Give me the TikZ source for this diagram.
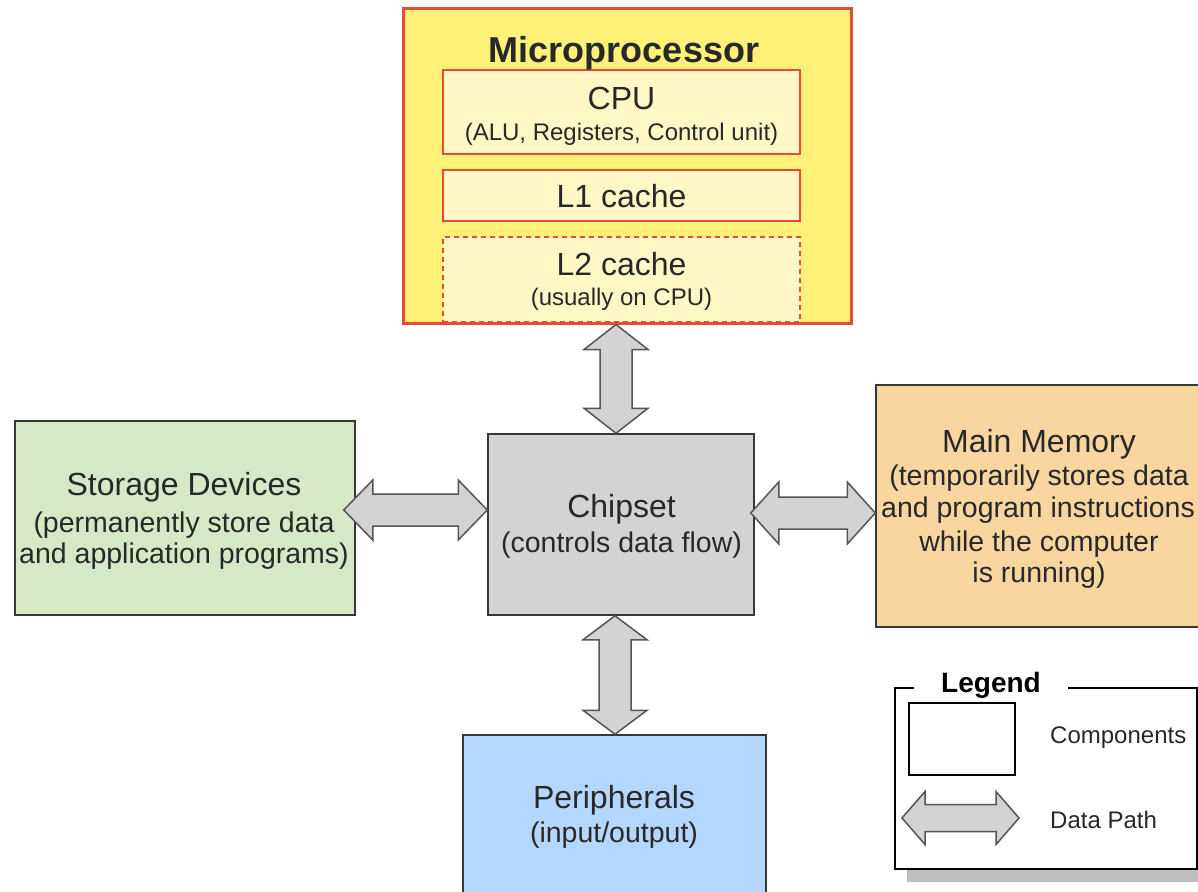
\documentclass[tikz,border=0pt]{standalone}
\usepackage{fontspec}
\setmainfont{Liberation Sans}
\usetikzlibrary{calc}
\definecolor{mpfill}{RGB}{255,241,120}
\definecolor{mpred}{RGB}{234,72,56}
\definecolor{infill}{RGB}{255,248,198}
\definecolor{chipfill}{RGB}{211,211,211}
\definecolor{storfill}{RGB}{214,233,199}
\definecolor{memfill}{RGB}{249,214,160}
\definecolor{perfill}{RGB}{180,215,253}
\definecolor{arrfill}{RGB}{211,211,211}
\definecolor{arrline}{RGB}{85,85,85}
\definecolor{boxline}{RGB}{55,55,55}
\definecolor{txt}{RGB}{40,40,40}
\definecolor{shadow}{RGB}{190,190,190}
\newcommand\HArrow[6]{%
  \draw[dpath] let \p1=(#1), \p2=(#2), \p3=(0,#3) in
  (\x1,\y3) -- (\x1+#4pt,\y3+#5pt) -- (\x1+#4pt,\y3+#6pt) -- (\x2-#4pt,\y3+#6pt)
  -- (\x2-#4pt,\y3+#5pt) -- (\x2,\y3) -- (\x2-#4pt,\y3-#5pt) -- (\x2-#4pt,\y3-#6pt)
  -- (\x1+#4pt,\y3-#6pt) -- (\x1+#4pt,\y3-#5pt) -- cycle;}
\newcommand\VArrow[6]{%
  \draw[dpath] let \p1=(#1), \p2=(#2), \p3=(#3,0) in
  (\x3,\y1) -- (\x3+#5pt,\y1-#4pt) -- (\x3+#6pt,\y1-#4pt) -- (\x3+#6pt,\y2+#4pt)
  -- (\x3+#5pt,\y2+#4pt) -- (\x3,\y2) -- (\x3-#5pt,\y2+#4pt) -- (\x3-#6pt,\y2+#4pt)
  -- (\x3-#6pt,\y1-#4pt) -- (\x3-#5pt,\y1-#4pt) -- cycle;}
\begin{document}
\begin{tikzpicture}[x=1pt,y=-1pt,
  dpath/.style={fill=arrfill,draw=arrline,line width=1.5pt,line join=miter},
  comp/.style={draw=boxline,line width=1.5pt,inner sep=0pt,rectangle},
  inner/.style={draw=mpred,line width=1.2pt,fill=infill,inner sep=0pt,rectangle,minimum width=357pt},
  lbl/.style={text=txt,inner sep=0pt,anchor=base},
  tA/.style={lbl,font=\fontsize{32}{38}\selectfont},
  tB/.style={lbl,font=\fontsize{28.5}{35}\selectfont},
  tC/.style={lbl,font=\fontsize{24}{29}\selectfont},
  tM/.style={lbl,font=\fontsize{36}{42}\selectfont\bfseries},
]
\useasboundingbox (0,0) rectangle (1198,891);
\clip (0,0) rectangle (1198,891);
\fill[white] (0,0) rectangle (1198,891);

% legend
\fill[shadow] (907,700) rectangle (1212,882);
\node[draw=black,line width=2.5pt,fill=white,rectangle,inner sep=0pt,minimum width=302pt,minimum height=181pt] (leg) at (1046,778.5) {};
\node[lbl,font=\fontsize{28}{32}\selectfont\bfseries,text=black,fill=white,inner xsep=27pt,inner ysep=4pt] (legT) at (991,692) {Legend};
\node[draw=black,line width=1.5pt,fill=white,rectangle,inner sep=0pt,minimum width=106pt,minimum height=72pt] (legC) at (962,739) {};
\node[tC,anchor=base west] (legCT) at (1050,743) {Components};
\coordinate (la) at (902,818);
\coordinate (lb) at (1019,818);
\HArrow{la}{lb}{818}{23}{26.5}{13.5}
\node[tC,anchor=base west] (legDT) at (1050,828) {Data Path};

% component boxes (positions)
\node[comp,fill=storfill,minimum width=340pt,minimum height=194pt] (stor) at (185,518) {};
\node[comp,fill=chipfill,minimum width=266pt,minimum height=181pt] (chip) at (621,524.5) {};
\node[comp,fill=memfill,minimum width=326pt,minimum height=242pt] (mem) at (1039,506) {};
\node[comp,fill=perfill,minimum width=303pt,minimum height=165pt] (per) at (614.5,817.5) {};

% microprocessor
\node[draw=mpred,line width=3pt,fill=mpfill,rectangle,inner sep=0pt,minimum width=448pt,minimum height=314pt] (mp) at (627,166) {};
\node[inner,minimum height=84pt] (cpu) at (621.5,112) {};
\node[inner,minimum height=51pt] (l1) at (621.5,195.5) {};
\node[inner,dash pattern=on 5pt off 4pt,minimum height=85pt] (l2) at (621.5,279.5) {};

% data paths
\HArrow{[xshift=-12pt]stor.east}{chip.west}{510}{29}{30}{16}
\HArrow{[xshift=-4pt]chip.east}{mem.west}{513}{28}{31}{16}
\VArrow{mp.south}{chip.north}{616}{25}{32}{16}
\VArrow{chip.south}{per.north}{615}{24}{32}{16}

% texts
\node[tM] (mpT) at (624,63) {Microprocessor};
\node[tA] (cpuT) at (621.5,109) {CPU};
\node[tC] (cpuS) at (621.5,140) {(ALU, Registers, Control unit)};
\node[tA] (l1T) at (621.5,207) {L1 cache};
\node[tA] (l2T) at (621.5,275) {L2 cache};
\node[tC] (l2S) at (621.5,305) {(usually on CPU)};

\node[tA] (storT) at (184,495) {Storage Devices};
\node[tB] (storS1) at (184,532) {(permanently store data};
\node[tB] (storS2) at (184,563) {and application programs)};

\node[tA] (chipT) at (621.5,517) {Chipset};
\node[tB] (chipS) at (621.5,552) {(controls data flow)};

\node[tA] (memT) at (1039,452) {Main Memory};
\node[tB] (memS1) at (1039,485) {(temporarily stores data};
\node[tB] (memS2) at (1038,517) {and program instructions};
\node[tB] (memS3) at (1039,551) {while the computer};
\node[tB] (memS4) at (1039,582) {is running)};

\node[tA] (perT) at (614,808) {Peripherals};
\node[tB] (perS) at (614,842) {(input/output)};
\end{tikzpicture}
\end{document}
